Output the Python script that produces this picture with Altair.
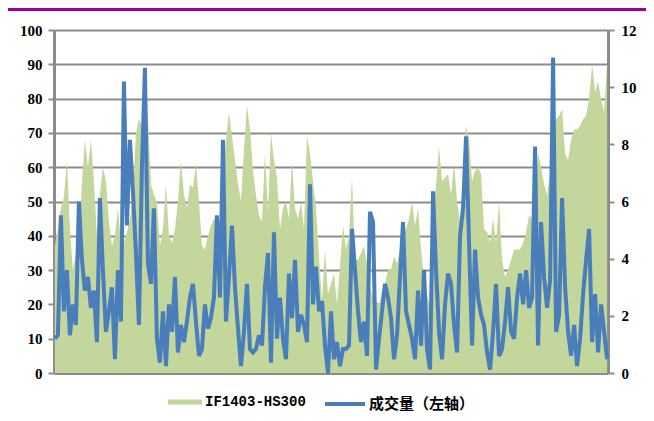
import altair as alt
import pandas as pd

# 成交量 (left axis, 0-100)
volume = [
    10, 11, 46, 18, 30, 11, 20, 14, 50, 33,
    24, 28, 19, 24, 9, 51, 30, 12, 18, 25,
    4, 30, 15, 85, 43, 68, 53, 35, 14, 60,
    89, 32, 26, 48, 10, 3, 18, 2, 20, 12,
    28, 6, 14, 9, 15, 22, 26, 15, 5, 7,
    20, 13, 16, 22, 46, 22, 68, 15, 28, 43,
    25, 13, 2, 12, 26, 7, 6, 7, 11, 8,
    25, 35, 3, 41, 10, 22, 10, 4, 29, 16,
    33, 12, 17, 14, 9, 55, 20, 31, 18, 21,
    8, 0, 18, 4, 9, 2, 7, 7, 8, 42,
    30, 18, 9, 15, 5, 47, 44, 1, 10, 18,
    26, 22, 16, 4, 11, 28, 44, 18, 14, 10,
    4, 24, 8, 30, 7, 1, 53, 30, 12, 4,
    20, 29, 26, 14, 6, 40, 48, 69, 38, 8,
    36, 22, 17, 14, 6, 1, 12, 26, 5, 7,
    15, 25, 12, 10, 22, 29, 20, 30, 19, 22,
    66, 8, 44, 28, 19, 27, 92, 12, 17, 51,
    25, 12, 5, 14, 2, 10, 23, 33, 42, 9,
    23, 6, 20, 12, 4,
]

# IF1403-HS300 (right axis, 0-12)
basis = [
    4.44, 5.04, 5.76, 6.12, 7.44, 5.04, 3.6, 4.2, 4.8, 6.6,
    8.16, 7.2, 8.16, 6.72, 4.8, 6.24, 7.2, 6.72, 5.28, 4.44,
    4.8, 5.76, 4.56, 4.56, 4.92, 5.4, 6.24, 8.4, 8.88, 8.64,
    9.72, 9.0, 6.6, 6.24, 6.0, 4.44, 5.04, 6.6, 4.8, 4.56,
    5.04, 6.0, 7.44, 6.24, 5.76, 6.6, 6.48, 7.32, 6.0, 4.44,
    4.32, 4.8, 5.16, 5.4, 5.28, 5.28, 6.6, 8.16, 9.12, 8.28,
    7.44, 6.6, 6.0, 7.8, 9.36, 8.52, 7.08, 6.24, 5.52, 5.28,
    7.68, 5.64, 8.4, 7.44, 6.84, 5.04, 5.76, 6.0, 5.4, 7.44,
    5.76, 5.4, 6.0, 5.04, 8.28, 7.68, 6.72, 5.76, 4.08, 2.52,
    4.32, 2.76, 3.12, 3.48, 2.4, 3.72, 5.16, 4.32, 4.8, 6.84,
    3.96, 3.96, 4.2, 4.44, 3.84, 3.0, 2.64, 2.52, 2.4, 2.88,
    3.12, 3.6, 3.6, 4.08, 3.84, 4.32, 4.8, 5.04, 5.4, 6.0,
    5.16, 5.76, 4.32, 3.36, 2.76, 2.28, 5.52, 6.6, 7.92, 6.72,
    6.84, 6.96, 6.24, 7.32, 6.0, 5.28, 6.6, 8.64, 8.16, 6.72,
    7.08, 7.2, 6.96, 5.04, 4.92, 4.56, 5.4, 4.56, 6.0, 3.96,
    3.36, 3.6, 3.96, 4.32, 4.32, 4.32, 4.56, 4.92, 5.52, 5.4,
    6.0, 7.68, 7.2, 6.6, 6.24, 6.96, 8.28, 8.88, 9.0, 9.24,
    7.68, 7.44, 8.16, 8.52, 8.52, 8.64, 8.88, 9.0, 9.6, 10.8,
    9.84, 10.2, 9.6, 9.12, 10.8,
]

series_names = ["IF1403-HS300", "成交量（左轴）"]
left_ticks = [0, 10, 20, 30, 40, 50, 60, 70, 80, 90, 100]
right_ticks = [0, 2, 4, 6, 8, 10, 12]

day = list(range(len(volume)))
df = pd.DataFrame({"day": day, "vol": volume, "basis": basis,
                   "s1": series_names[0], "s2": series_names[1]})

GRAY = "#8c8c8c"
GREEN = "#c3d69b"
BLUE = "#4a7ebb"

xenc = alt.X("day:Q",
             scale=alt.Scale(domain=[-0.3, len(day) - 1 + 0.3], nice=False, zero=False),
             axis=alt.Axis(labels=False, ticks=False, grid=False, title=None,
                           domainColor=GRAY, domainWidth=3))

area = alt.Chart(df).mark_area(opacity=1, interpolate="linear").encode(
    x=xenc,
    y=alt.Y("basis:Q", scale=alt.Scale(domain=[0, 12], nice=False),
            axis=alt.Axis(orient="right", values=right_ticks, grid=False, title=None,
                          labelFont="Liberation Serif", labelFontSize=15, labelFontWeight="bold",
                          labelColor="black", tickSize=6, tickColor=GRAY, tickWidth=2,
                          domainColor=GRAY, domainWidth=3, labelPadding=7)),
    fill=alt.Fill("s1:N", scale=alt.Scale(domain=[series_names[0]], range=[GREEN]),
                  legend=alt.Legend(orient="none", legendX=114, legendY=355, title=None,
                                    symbolType="M-1,-0.15L1,-0.15L1,0.15L-1,0.15Z",
                                    symbolSize=1156, symbolStrokeWidth=0, padding=0,
                                    labelFont="Liberation Mono", labelFontSize=14,
                                    labelFontWeight="bold", labelColor="black", labelOffset=3)),
)

line = alt.Chart(df).mark_line(strokeWidth=4, interpolate="linear").encode(
    x=xenc,
    y=alt.Y("vol:Q", scale=alt.Scale(domain=[0, 100], nice=False),
            axis=alt.Axis(orient="left", values=left_ticks, grid=True, gridColor=GRAY,
                          gridWidth=2, title=None,
                          labelFont="Liberation Serif", labelFontSize=15, labelFontWeight="bold",
                          labelColor="black", tickSize=6, tickColor=GRAY, tickWidth=2,
                          domainColor=GRAY, domainWidth=3, labelPadding=6)),
    stroke=alt.Stroke("s2:N", scale=alt.Scale(domain=[series_names[1]], range=[BLUE]),
                      legend=alt.Legend(orient="none", legendX=269, legendY=352, title=None,
                                        symbolType="stroke", symbolSize=1600,
                                        symbolStrokeWidth=4, padding=0,
                                        labelFont="Noto Sans CJK SC", labelFontSize=15,
                                        labelFontWeight="bold", labelColor="black", labelOffset=2)),
)

topbar = alt.Chart(pd.DataFrame({"k": [0]})).mark_rule(color="#a000a0", strokeWidth=3).encode(
    x=alt.value(-46), x2=alt.value(592), y=alt.value(-20.5)
)

chart = alt.layer(area, line, topbar).resolve_scale(
    y="independent", fill="independent", stroke="independent"
).properties(
    width=554, height=343,
    padding={"left": 46, "top": 22, "right": 38, "bottom": 40},
    autosize=alt.AutoSizeParams(type="none"),
).configure_view(stroke=None)

chart.save("out.html", embed_options={"renderer": "svg", "actions": False})
